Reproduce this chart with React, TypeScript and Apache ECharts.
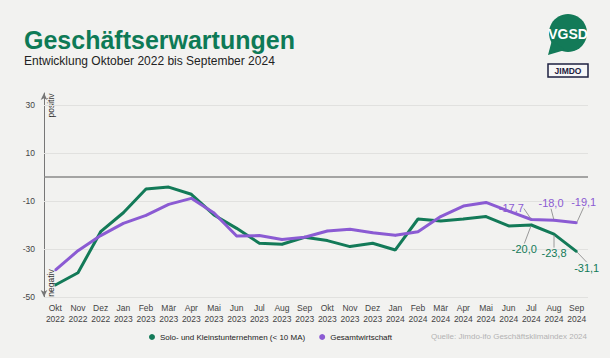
import React, { useEffect, useRef } from 'react';
import * as echarts from 'echarts';

const months = ['Okt', 'Nov', 'Dez', 'Jan', 'Feb', 'Mär', 'Apr', 'Mai', 'Jun', 'Jul', 'Aug', 'Sep',
  'Okt', 'Nov', 'Dez', 'Jan', 'Feb', 'Mär', 'Apr', 'Mai', 'Jun', 'Jul', 'Aug', 'Sep'];
const years = ['2022', '2022', '2022', '2023', '2023', '2023', '2023', '2023', '2023', '2023', '2023', '2023',
  '2023', '2023', '2023', '2024', '2024', '2024', '2024', '2024', '2024', '2024', '2024', '2024'];
const categories = months.map((m, i) => `${m}\n${years[i]}`);

const soloValues = [-45.0, -39.9, -22.8, -14.9, -5.0, -4.2, -7.2, -15.8, -21.4, -27.6, -28.0, -25.1,
  -26.5, -29.0, -27.6, -30.4, -17.5, -18.3, -17.5, -16.5, -20.4, -20.0, -23.8, -31.1];
const gesamtValues = [-38.8, -30.7, -24.4, -19.3, -16.0, -11.4, -8.9, -15.0, -24.6, -24.4, -26.0, -25.1,
  -22.5, -21.8, -23.2, -24.3, -22.8, -16.5, -12.1, -10.6, -14.2, -17.7, -18.0, -19.1];

const yTickLabels = [30, 10, -10, -30, -50];
const seriesNames = ['Solo- und Kleinstunternehmen (< 10 MA)', 'Gesamtwirtschaft'];
const labelledFrom = 21;

const GREEN = '#137a58';
const PURPLE = '#8b5bd3';
const FONT = 'Liberation Sans, Arial, sans-serif';

const soloOffsets: [number, number][] = [[-7, 24], [0, 19], [10, 16]];
const gesamtOffsets: [number, number][] = [[-20, -11], [-3, -17], [7, -21]];

function withLabels(values: number[], color: string) {
  return values.map((v, i) => {
    const k = i - labelledFrom;
    if (k < 0) return v;
    return {
      value: v,
      label: {
        show: true,
        position: 'inside',
        color,
        fontSize: 11,
        fontFamily: FONT,
        formatter: (p: any) => Number(p.value).toFixed(1).replace('.', ','),
      },
      labelLine: { show: true, lineStyle: { color: '#8f8f8f', width: 0.9 } },
    };
  });
}

function layoutFor(offsets: [number, number][]) {
  return (params: any) => {
    const k = params.dataIndex - labelledFrom;
    if (k < 0) return {};
    return { dx: offsets[k][0], dy: offsets[k][1] };
  };
}

export default function App() {
  const ref = useRef<HTMLDivElement>(null);
  useEffect(() => {
    if (!ref.current) return;
    const chart = echarts.init(ref.current, undefined, { renderer: 'svg' });
    const option: any = {
      animation: false,
      backgroundColor: '#f2f2f0',
      textStyle: { fontFamily: FONT },
      grid: { left: 44, right: 22, top: 93, bottom: 61, containLabel: false },
      legend: {
        data: seriesNames,
        left: 144,
        top: 328,
        icon: 'circle',
        itemWidth: 6,
        itemHeight: 6,
        itemGap: 14,
        textStyle: { fontSize: 8, color: '#222', fontFamily: FONT },
      },
      xAxis: {
        type: 'category',
        data: categories,
        boundaryGap: true,
        axisLine: { show: false },
        axisTick: { show: false },
        axisLabel: { interval: 0, fontSize: 8.5, color: '#444', lineHeight: 10.5, margin: 6 },
      },
      yAxis: {
        type: 'value',
        min: -50,
        max: 35,
        interval: 10,
        splitLine: { show: false },
        axisTick: { show: false },
        axisLine: {
          show: true,
          symbol: ['arrow', 'arrow'],
          symbolSize: [5, 7],
          lineStyle: { color: '#777', width: 1 },
        },
        axisLabel: {
          fontSize: 8.5,
          color: '#444',
          margin: 9,
          formatter: (v: number) => (yTickLabels.includes(v) ? String(v) : ''),
        },
      },
      series: [
        {
          name: seriesNames[0],
          type: 'line',
          data: withLabels(soloValues, GREEN),
          labelLayout: layoutFor(soloOffsets),
          color: GREEN,
          lineStyle: { width: 3, color: GREEN },
          symbol: 'circle',
          symbolSize: 2,
          showSymbol: true,
          itemStyle: { color: GREEN },
          z: 2,
          markLine: {
            z: 1,
            silent: true,
            symbol: 'none',
            label: { show: false },
            data: [
              ...yTickLabels.map((v) => ({ yAxis: v, lineStyle: { color: '#e1e1df', width: 1, type: 'solid' } })),
              { yAxis: 0, lineStyle: { color: '#8a8a8a', width: 1.5, type: 'solid' } },
            ],
          },
        },
        {
          name: seriesNames[1],
          type: 'line',
          data: withLabels(gesamtValues, PURPLE),
          labelLayout: layoutFor(gesamtOffsets),
          color: PURPLE,
          lineStyle: { width: 3, color: PURPLE },
          symbol: 'circle',
          symbolSize: 2,
          showSymbol: true,
          itemStyle: { color: PURPLE },
          z: 3,
        },
      ],
      graphic: [
        {
          type: 'text', left: 24, top: 27,
          style: { text: 'Geschäftserwartungen', fontSize: 25, fontWeight: 'bold', fill: '#0e7a56', fontFamily: FONT },
        },
        {
          type: 'text', left: 24, top: 54.5,
          style: { text: 'Entwicklung Oktober 2022 bis September 2024', fontSize: 12, fill: '#222', fontFamily: FONT },
        },
        {
          type: 'text', right: 23, top: 332,
          style: { text: 'Quelle: Jimdo-ifo Geschäftsklimaindex 2024', fontSize: 8, fill: '#b3b3b3', fontFamily: FONT },
        },
        {
          type: 'text', x: 51, y: 105.5, rotation: Math.PI / 2,
          style: { text: 'positiv', fontSize: 8.5, fill: '#333', align: 'center', verticalAlign: 'middle', fontFamily: FONT },
        },
        {
          type: 'text', x: 51, y: 283, rotation: Math.PI / 2,
          style: { text: 'negativ', fontSize: 8.5, fill: '#333', align: 'center', verticalAlign: 'middle', fontFamily: FONT },
        },
        { type: 'circle', shape: { cx: 568, cy: 33, r: 19 }, style: { fill: GREEN } },
        { type: 'polygon', shape: { points: [[552, 40], [548, 55], [565, 50]] }, style: { fill: GREEN } },
        {
          type: 'text', x: 568, y: 34,
          style: { text: 'VGSD', fill: '#fff', fontSize: 14, fontWeight: 'bold', align: 'center', verticalAlign: 'middle', fontFamily: FONT },
        },
        {
          type: 'rect', shape: { x: 548, y: 64, width: 40, height: 13 },
          style: { fill: '#f7f7f7', stroke: '#1e2140', lineWidth: 1.5 },
        },
        {
          type: 'text', x: 568, y: 70.8,
          style: { text: 'JIMDO', fill: '#1e2140', fontSize: 8.5, fontWeight: 'bold', align: 'center', verticalAlign: 'middle', fontFamily: FONT },
        },
      ],
    };
    chart.setOption(option);
    return () => chart.dispose();
  }, []);
  return <div ref={ref} style={{ position: 'fixed', left: 0, top: 0, width: 610, height: 358 }} />;
}
